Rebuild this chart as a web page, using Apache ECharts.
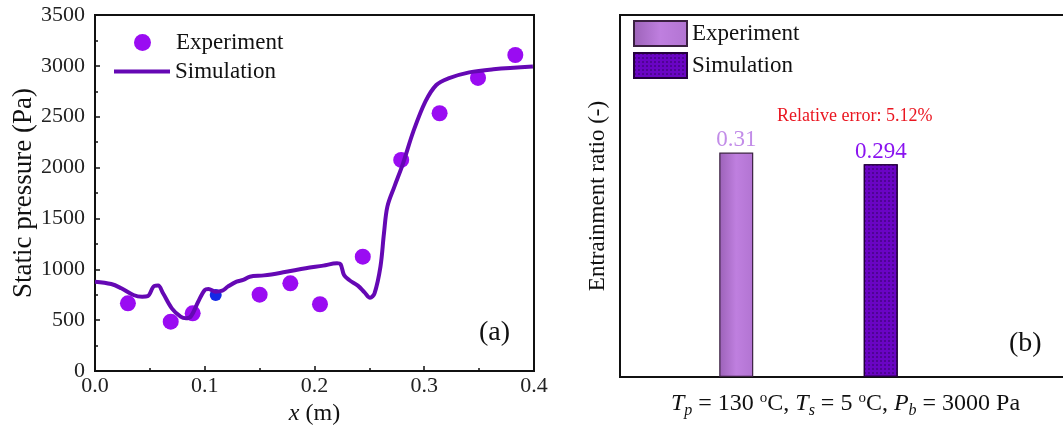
<!DOCTYPE html>
<html>
<head>
<meta charset="utf-8">
<script src="https://cdn.jsdelivr.net/npm/echarts@6/dist/echarts.min.js"></script>
<style>
html,body{margin:0;padding:0;background:#fff;}
#chart{width:1063px;height:426px;}
</style>
</head>
<body>
<div id="chart"></div>
<script>
// ---- Data ----
var expX = [0.030, 0.069, 0.089, 0.110, 0.150, 0.178, 0.205, 0.244, 0.279, 0.314, 0.349, 0.383];
var expY = [665, 485, 567, 747, 750, 862, 656, 1124, 2075, 2534, 2881, 3107];
var simX = [0, 0.0148, 0.024, 0.035, 0.043, 0.048, 0.054, 0.0575, 0.062, 0.070, 0.078, 0.083, 0.0876, 0.094, 0.100, 0.1034, 0.1097, 0.116, 0.121, 0.129, 0.135, 0.141, 0.154, 0.173, 0.192, 0.208, 0.2205, 0.2237, 0.2269, 0.2316, 0.2395, 0.2458, 0.2506, 0.2547, 0.2601, 0.2633, 0.2664, 0.2728, 0.2807, 0.290, 0.301, 0.311, 0.322, 0.341, 0.363, 0.399];
var simY = [878, 855, 813, 747, 730, 735, 836, 840, 764, 616, 534, 518, 541, 681, 796, 806, 780, 790, 829, 878, 895, 927, 940, 973, 1010, 1036, 1059, 1050, 944, 895, 839, 770, 721, 764, 1026, 1354, 1616, 1813, 2042, 2353, 2648, 2812, 2877, 2936, 2966, 2993];
var xTicks = [0, 0.1, 0.2, 0.3, 0.4];
var yTicks = [0, 500, 1000, 1500, 2000, 2500, 3000, 3500];
var barCategories = ['Experiment', 'Simulation'];
var barExp = [0.31];
var barSim = [0.294];
var relativeError = 'Relative error: 5.12%';

// ---- Build ----
var serif = '"Liberation Serif", "Times New Roman", serif';
var expData = expX.map(function (x, i) {
  var d = { value: [x, expY[i]] };
  if (i === 3) { d.itemStyle = { color: '#1428e6' }; d.symbolSize = 12; }
  return d;
});
var simData = simX.map(function (x, i) { return [x, simY[i]]; });
var noAxis = { axisLine: { show: false }, axisTick: { show: false }, axisLabel: { show: false }, splitLine: { show: false } };
function ext(a, b) { var o = {}; for (var k in a) o[k] = a[k]; for (var k2 in b) o[k2] = b[k2]; return o; }

var chart = echarts.init(document.getElementById('chart'), null, { renderer: 'canvas' });
var option = {
  backgroundColor: '#fff',
  animation: false,
  title: [
    { text: '(a)', left: 479, top: 319, padding: 0, textStyle: { fontFamily: serif, fontSize: 28, fontWeight: 'normal', color: '#111' } },
    { text: '(b)', left: 1009, top: 330, padding: 0, textStyle: { fontFamily: serif, fontSize: 28, fontWeight: 'normal', color: '#111' } },
    { text: relativeError, left: 777, top: 107, padding: 0, textStyle: { fontFamily: serif, fontSize: 18, fontWeight: 'normal', color: '#ea1620' } }
  ],
  legend: [
    {
      data: ['Experiment'], left: 129, top: 26, itemWidth: 57, itemHeight: 17,
      textStyle: { fontFamily: serif, fontSize: 23, color: '#111' }, selectedMode: false
    },
    {
      data: ['Simulation'], left: 109, top: 55, itemWidth: 56, itemHeight: 4, icon: 'rect',
      textStyle: { fontFamily: serif, fontSize: 23, color: '#111' }, selectedMode: false
    },
    {
      data: ['Experiment ', 'Simulation '],
      left: 628, top: 15, orient: 'vertical', itemWidth: 53, itemHeight: 25, itemGap: 5,
      icon: 'rect',
      formatter: function (n) { return n.trim(); },
      textStyle: { fontFamily: serif, fontSize: 23, color: '#111' },
      selectedMode: false
    }
  ],
  grid: [
    { left: 95, top: 15, width: 439, height: 356, show: true, borderColor: '#111', borderWidth: 2, backgroundColor: 'transparent', outerBoundsMode: 'none', containLabel: false },
    { left: 620, top: 15, right: -8, bottom: 49, show: true, borderColor: '#111', borderWidth: 2, backgroundColor: 'transparent', outerBoundsMode: 'none', containLabel: false },
    { left: 664, top: 15, width: 289, bottom: 49, outerBoundsMode: 'none', containLabel: false }
  ],
  xAxis: [
    {
      gridIndex: 0, type: 'value', min: 0, max: 0.4, interval: 0.1,
      axisLine: { show: true, onZero: false, lineStyle: { color: '#111', width: 2 } },
      axisTick: { show: true, inside: true, length: 5, lineStyle: { color: '#111', width: 1.5 } },
      minorTick: { show: true, splitNumber: 2, length: 3, lineStyle: { color: '#111', width: 1.5 } },
      splitLine: { show: false },
      axisLabel: { fontFamily: serif, fontSize: 22, color: '#222', margin: 4, formatter: function (v) { return xTicks.indexOf(v) >= 0 ? v.toFixed(1) : ''; } },
      name: '{i|x} (m)', nameLocation: 'middle', nameGap: 28,
      nameTextStyle: { fontFamily: serif, fontSize: 24, color: '#111', rich: { i: { fontFamily: serif, fontSize: 24, fontStyle: 'italic', color: '#111' } } }
    },
    ext(noAxis, {
      gridIndex: 1, type: 'value', min: 0, max: 1,
      name: '{it|T}{sub|p} = 130 {sup|o}C, {it|T}{sub|s} = 5 {sup|o}C, {it|P}{sub|b} = 3000 Pa',
      nameLocation: 'middle', nameGap: 12,
      nameTextStyle: {
        fontFamily: serif, fontSize: 24, color: '#111',
        rich: {
          it: { fontFamily: serif, fontSize: 24, fontStyle: 'italic', color: '#111' },
          sub: { fontFamily: serif, fontSize: 16, fontStyle: 'italic', color: '#111', padding: [14, 0, 0, 0] },
          sup: { fontFamily: serif, fontSize: 15, color: '#111', padding: [0, 0, 12, 0] }
        }
      }
    }),
    ext(noAxis, { gridIndex: 2, type: 'category', data: barCategories })
  ],
  yAxis: [
    {
      gridIndex: 0, type: 'value', min: 0, max: 3500, interval: 500,
      axisLine: { show: true, lineStyle: { color: '#111', width: 2 } },
      axisTick: { show: true, inside: true, length: 5, lineStyle: { color: '#111', width: 1.5 } },
      minorTick: { show: true, splitNumber: 2, length: 3, lineStyle: { color: '#111', width: 1.5 } },
      splitLine: { show: false },
      axisLabel: { fontFamily: serif, fontSize: 22, color: '#222', margin: 10, formatter: function (v) { return yTicks.indexOf(v) >= 0 ? String(v) : ''; } },
      name: 'Static pressure (Pa)', nameLocation: 'middle', nameGap: 57,
      nameTextStyle: { fontFamily: serif, fontSize: 27, color: '#111' }
    },
    ext(noAxis, {
      gridIndex: 1, type: 'value', min: 0, max: 1,
      name: 'Entrainment ratio (-)', nameLocation: 'middle', nameGap: 11,
      nameTextStyle: { fontFamily: serif, fontSize: 23, color: '#111' }
    }),
    ext(noAxis, { gridIndex: 2, type: 'value', min: 0, max: 0.5 })
  ],
  series: [
    {
      name: 'Experiment', type: 'scatter', xAxisIndex: 0, yAxisIndex: 0,
      data: expData, symbol: 'circle', symbolSize: 16,
      itemStyle: { color: '#9a0cf2', opacity: 1 }, z: 3
    },
    {
      name: 'Simulation', type: 'line', xAxisIndex: 0, yAxisIndex: 0,
      data: simData, showSymbol: false, symbol: 'none', smooth: 0.35,
      lineStyle: { color: '#6508b4', width: 4 }, itemStyle: { color: '#6508b4' }, z: 4
    },
    {
      name: 'Experiment ', type: 'bar', xAxisIndex: 2, yAxisIndex: 2,
      data: [barExp[0], '-'], barWidth: 34, barGap: '-100%',
      itemStyle: {
        color: { type: 'linear', x: 0, y: 0, x2: 1, y2: 0, colorStops: [
          { offset: 0, color: '#9c62b8' }, { offset: 0.5, color: '#bf7fdf' }, { offset: 1, color: '#b274d2' } ] },
        borderColor: '#3a2040', borderWidth: 1.2
      },
      label: { show: true, position: 'top', distance: 1, fontFamily: serif, fontSize: 23, color: '#c28ce8' }
    },
    {
      name: 'Simulation ', type: 'bar', xAxisIndex: 2, yAxisIndex: 2,
      data: ['-', barSim[0]], barWidth: 34,
      itemStyle: {
        color: '#6a04c4', borderColor: '#24003e', borderWidth: 1.2,
        decal: { symbol: 'rect', symbolSize: 1, dashArrayX: [2, 2], dashArrayY: [2, 2], color: 'rgba(30,0,60,0.35)', rotation: 0 }
      },
      label: { show: true, position: 'top', distance: 1, fontFamily: serif, fontSize: 23, color: '#8a14f0' }
    }
  ]
};
chart.setOption(option);
</script>
</body>
</html>
